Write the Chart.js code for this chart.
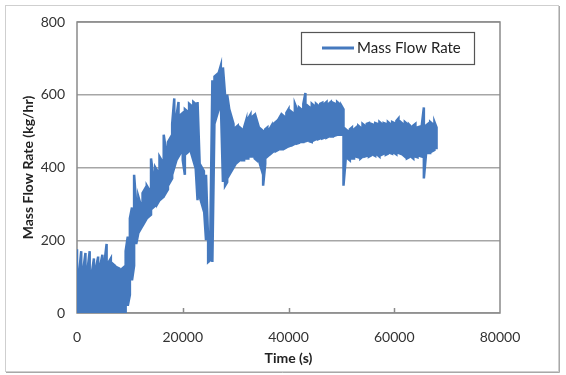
<!DOCTYPE html>
<html>
<head>
<meta charset="utf-8">
<script src="https://cdn.jsdelivr.net/npm/chart.js@4"></script>
<style>
  html, body { margin: 0; padding: 0; background: #fff; }
  canvas { display: block; }
</style>
</head>
<body>
<canvas id="myChart" width="566" height="375"></canvas>
<script>
// sample times (s)
const times = [
  0, 400, 800, 1200, 1600, 2000, 2400, 2800, 3200, 3600,
  4000, 4400, 4800, 5200, 5600, 6000, 6400, 6800, 7200, 7600,
  8000, 8400, 8800, 9200, 9600, 10000, 10400, 10800, 11200, 11600,
  12000, 12400, 12800, 13200, 13600, 14000, 14400, 14800, 15200, 15600,
  16000, 16400, 16800, 17200, 17600, 18000, 18400, 18800, 19200, 19600,
  20000, 20400, 20800, 21200, 21600, 22000, 22400, 22800, 23200, 23600,
  24000, 24400, 24800, 25200, 25600, 26000, 26400, 26800, 27200, 27600,
  28000, 28400, 28800, 29200, 29600, 30000, 30400, 30800, 31200, 31600,
  32000, 32400, 32800, 33200, 33600, 34000, 34400, 34800, 35200, 35600,
  36000, 36400, 36800, 37200, 37600, 38000, 38400, 38800, 39200, 39600,
  40000, 40400, 40800, 41200, 41600, 42000, 42400, 42800, 43200, 43600,
  44000, 44400, 44800, 45200, 45600, 46000, 46400, 46800, 47200, 47600,
  48000, 48400, 48800, 49200, 49600, 50000, 50400, 50800, 51200, 51600,
  52000, 52400, 52800, 53200, 53600, 54000, 54400, 54800, 55200, 55600,
  56000, 56400, 56800, 57200, 57600, 58000, 58400, 58800, 59200, 59600,
  60000, 60400, 60800, 61200, 61600, 62000, 62400, 62800, 63200, 63600,
  64000, 64400, 64800, 65200, 65600, 66000, 66400, 66800, 67200, 67600,
  68000
];

// peak of the fluctuation in each sample window (kg/hr)
const flowHigh = [
  175, 110, 170, 120, 165, 120, 170, 110, 150, 125,
  155, 130, 160, 140, 190, 140, 150, 135, 130, 125,
  122, 120, 125, 170, 210, 260, 290, 380, 300, 320,
  300, 330, 340, 350, 340, 425, 380, 400, 390, 430,
  420, 490, 450, 470, 480, 520, 590, 540, 580, 545,
  550, 560, 555, 575, 570, 580, 575, 580, 410, 400,
  390, 380, 200, 200, 640, 650, 655, 660, 680, 675,
  600, 600, 560, 540, 520, 510, 515, 510, 505, 510,
  530, 535, 545, 540, 545, 530, 510, 505, 500, 505,
  510, 505, 515, 520, 525, 530, 540, 545, 540, 550,
  560, 555, 550, 575, 560, 565, 560, 575, 605, 570,
  565, 575, 570, 575, 570, 575, 578, 575, 580, 575,
  580, 578, 575, 580, 575, 570, 560, 505, 500, 505,
  510, 505, 510, 515, 510, 520, 515, 520, 522, 520,
  518, 522, 520, 525, 520, 522, 520, 525, 520, 525,
  522, 528, 535, 525, 520, 525, 520, 518, 512, 515,
  520, 510, 512, 515, 565, 515, 520, 525, 520, 525,
  510
];

// trough of the fluctuation in each sample window (kg/hr)
const flowLow = [
  0, 0, 0, 0, 0, 0, 0, 0, 0, 0,
  0, 0, 0, 0, 0, 0, 0, 0, 0, 0,
  0, 0, 0, 0, 20, 50, 90, 130, 190, 220,
  230, 240, 250, 260, 265, 270, 290, 295, 300, 310,
  315, 320, 330, 340, 360, 370, 400, 420, 430, 440,
  420, 380, 440, 445, 440, 420, 410, 310, 320, 300,
  290, 200, 140, 145, 140, 530, 540, 560, 580, 360,
  350, 360, 380, 390, 400, 410, 415, 420, 420, 420,
  425, 425, 430, 430, 425, 420, 420, 400, 350, 410,
  430, 435, 440, 445, 445, 448, 450, 450, 452, 455,
  458, 460, 462, 465, 466, 468, 470, 470, 472, 474,
  472, 470, 475, 478, 478, 480, 480, 482, 482, 485,
  485, 485, 488, 490, 490, 490, 350, 420, 425, 420,
  425, 425, 430, 428, 425, 430, 430, 432, 430, 433,
  435, 432, 435, 430, 435, 438, 435, 438, 440, 438,
  440, 436, 440, 438, 435, 430, 425, 428, 430, 425,
  430, 428, 432, 430, 370, 435, 440, 440, 445, 448,
  450
];

const yTicks = [0, 200, 400, 600, 800];
const xTicks = [0, 20000, 40000, 60000, 80000];

const lineColor = '#4579be';
const fontFamily = 'Lato, "Open Sans", sans-serif';

// trace the fluctuation: each sample swings between its trough and peak
const points = [];
times.forEach((t, i) => {
  if (i % 2 === 0) {
    points.push({ x: t, y: flowHigh[i] }, { x: t, y: flowLow[i] });
  } else {
    points.push({ x: t, y: flowLow[i] }, { x: t, y: flowHigh[i] });
  }
});

const framePlugin = {
  id: 'frame',
  beforeDraw(chart) {
    const ctx = chart.ctx;
    ctx.save();
    ctx.fillStyle = '#fff';
    ctx.fillRect(0, 0, chart.width, chart.height);
    ctx.strokeStyle = '#cfcfcf';
    ctx.lineWidth = 1;
    ctx.strokeRect(5.5, 5.5, 553, 366);
    ctx.strokeStyle = '#a8a8a8';
    ctx.beginPath();
    ctx.moveTo(6, 372.5);
    ctx.lineTo(559.5, 372.5);
    ctx.lineTo(559.5, 6);
    ctx.stroke();
    ctx.restore();
  },
  beforeDatasetsDraw(chart) {
    const { ctx, chartArea: a, scales } = chart;
    ctx.save();
    ctx.strokeStyle = '#8a8a8a';
    ctx.lineWidth = 1.5;
    ctx.strokeRect(a.left, a.top, a.right - a.left, a.bottom - a.top);
    // small inward tick marks on the x axis
    ctx.beginPath();
    xTicks.slice(1, -1).forEach(v => {
      const px = Math.round(scales.x.getPixelForValue(v)) + 0.5;
      ctx.moveTo(px, a.bottom);
      ctx.lineTo(px, a.bottom - 5);
    });
    ctx.stroke();
    ctx.restore();
  },
  afterDraw(chart) {
    // legend box
    const ctx = chart.ctx;
    const ds = chart.data.datasets[0];
    ctx.save();
    ctx.fillStyle = '#fff';
    ctx.fillRect(301, 32, 173, 32);
    ctx.strokeStyle = '#555';
    ctx.lineWidth = 1.2;
    ctx.strokeRect(301.5, 32.5, 173, 32);
    ctx.strokeStyle = ds.borderColor;
    ctx.lineWidth = 3;
    ctx.beginPath();
    ctx.moveTo(322, 48);
    ctx.lineTo(354, 48);
    ctx.stroke();
    ctx.fillStyle = '#222';
    ctx.font = '15px ' + fontFamily;
    ctx.textBaseline = 'middle';
    ctx.fillText(ds.label, 357, 48);
    ctx.restore();
  }
};

const ctx = document.getElementById('myChart').getContext('2d');
const myChart = new Chart(ctx, {
  type: 'line',
  data: {
    datasets: [
      {
        label: 'Mass Flow Rate',
        data: points,
        borderColor: lineColor,
        backgroundColor: lineColor,
        borderWidth: 2.5,
        pointRadius: 0,
        tension: 0,
        fill: false
      }
    ]
  },
  options: {
    responsive: false,
    animation: false,
    layout: { padding: { top: 22, right: 66, left: 0, bottom: 0 } },
    plugins: {
      legend: { display: false },
      tooltip: { enabled: false }
    },
    scales: {
      x: {
        type: 'linear',
        min: xTicks[0],
        max: xTicks[xTicks.length - 1],
        afterBuildTicks: s => { s.ticks = xTicks.map(v => ({ value: v })); },
        afterFit: s => { s.height = 62; },
        grid: { display: false, drawTicks: false },
        border: { display: false },
        ticks: {
          padding: 16,
          color: '#333',
          font: { family: fontFamily, size: 14 },
          maxRotation: 0,
          callback: v => String(v)
        },
        title: {
          display: true,
          text: 'Time (s)',
          color: '#222',
          font: { family: fontFamily, size: 14, weight: 'bold' },
          padding: { top: 0, bottom: 8 }
        }
      },
      y: {
        min: yTicks[0],
        max: yTicks[yTicks.length - 1],
        afterBuildTicks: s => { s.ticks = yTicks.map(v => ({ value: v })); },
        afterFit: s => { s.width = 77; },
        grid: { color: '#a6a6a6', lineWidth: 1.5, drawTicks: false },
        border: { display: false },
        ticks: {
          padding: 12,
          color: '#333',
          font: { family: fontFamily, size: 14 },
          callback: v => String(v)
        },
        title: {
          display: true,
          text: 'Mass Flow Rate (kg/hr)',
          color: '#222',
          font: { family: fontFamily, size: 14, weight: 'bold' },
          padding: { top: 20, bottom: 0 }
        }
      }
    }
  },
  plugins: [framePlugin]
});
</script>
</body>
</html>
